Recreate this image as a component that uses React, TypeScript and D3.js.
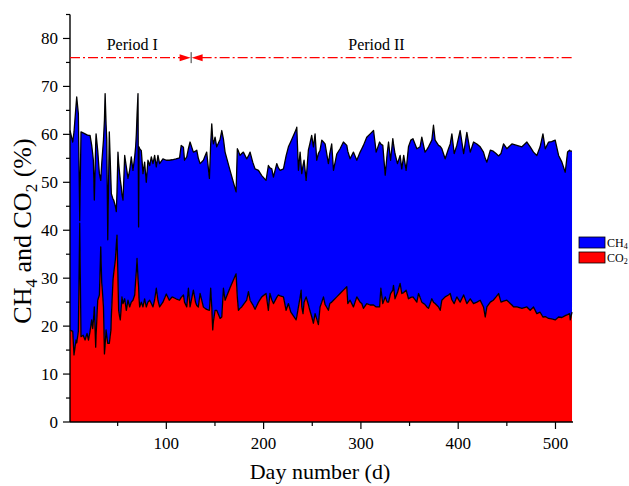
import React from 'react';
import * as d3 from 'd3';

// Day number of each reading
const days = [1, 3.8, 5.1, 7.2, 7.9, 9.6, 11, 12.3, 14.5, 16.5, 18.5, 20, 21.6, 23.3, 24.3, 25, 26, 27.4, 27.8, 29.5, 31.2, 32.6, 33.6, 34, 35.4, 36.4, 37.1, 38.1, 38.8, 39.8, 41.4, 43.1, 43.5, 45.2, 45.9, 47.6, 48.6, 49.3, 50.3, 51, 52, 52.7, 53.7, 54.4, 55.5, 57.2, 58.9, 60.6, 62.3, 64, 65.7, 67.5, 68.5, 69.2, 69.9, 70.9, 71.5, 71.9, 72.6, 74.3, 76, 77.7, 79.4, 81.1, 82.9, 84.6, 86.3, 88, 89.7, 91.4, 93.1, 96.5, 100, 103, 106, 110, 113.6, 115.3, 117.6, 118.7, 121, 122.7, 124.4, 127.8, 130, 131.3, 132.9, 134.7, 138.1, 139.8, 141.5, 144.3, 145.6, 146.7, 147.7, 148.4, 150.1, 151.8, 155.3, 157, 158.7, 160.4, 165.5, 171.7, 173, 174.1, 175.8, 177.5, 179.2, 182.6, 184.4, 186.1, 188.8, 191.2, 194.7, 198.1, 202.5, 204.9, 206.5, 208.4, 210.1, 213.5, 215.2, 217, 220.4, 223.1, 225.5, 228, 233.4, 234.1, 235.8, 237.5, 238.6, 239.2, 240.5, 241.6, 243.7, 246, 247.5, 249.4, 251.2, 252.9, 254.6, 256.3, 258, 259.8, 261.5, 263.2, 266.6, 268, 270, 271.8, 275.2, 278.6, 282, 285.5, 286.5, 288.9, 292.3, 295.8, 299.2, 300.9, 302.6, 306, 309.5, 313, 315.7, 319.2, 320.5, 322.5, 325, 327, 328.4, 330.5, 332.8, 333.5, 335, 337.6, 340.3, 342, 344, 346.5, 348.9, 351.3, 353.5, 357.5, 359.2, 360.8, 362.6, 365.9, 367.8, 369.5, 372.9, 374.6, 376.3, 379.8, 381.5, 383.2, 386.6, 390, 391.8, 393.5, 395.9, 398.6, 402, 405.6, 408.9, 412.4, 415.8, 419.2, 422.6, 426, 427.8, 429.5, 433, 436, 438.9, 441.5, 444, 446.6, 450, 455.2, 456.9, 460.3, 465.5, 470.6, 474, 477.4, 480.8, 484.2, 487.1, 489.5, 492.9, 496, 499.7, 503.2, 506.6, 510, 512.4, 514.5, 515.2, 517];

// CO2 content (%)
const co2 = [19.2, 18.9, 14.0, 17.1, 16.5, 18.9, 41.5, 17.8, 18.1, 17.1, 18.5, 17.1, 18.9, 21.3, 19.5, 21.0, 24.0, 15.6, 18.0, 25.4, 26.5, 36.5, 29.0, 28.2, 24.0, 14.2, 16.0, 19.2, 18.0, 16.4, 16.4, 19.2, 22.0, 29.6, 31.0, 33.8, 37.0, 39.0, 30.0, 23.3, 22.0, 21.3, 24.0, 26.1, 24.7, 25.7, 23.3, 25.4, 24.0, 25.0, 25.4, 26.5, 29.6, 31.5, 34.1, 30.0, 28.2, 26.0, 24.0, 25.0, 24.0, 25.7, 24.0, 25.0, 25.4, 24.7, 24.0, 25.5, 27.9, 25.4, 24.0, 25.0, 26.7, 25.4, 26.1, 25.7, 25.4, 26.0, 26.5, 25.0, 24.0, 27.9, 24.0, 27.5, 25.0, 24.3, 24.0, 26.8, 24.0, 23.7, 23.5, 23.3, 27.9, 24.0, 19.2, 21.0, 23.3, 23.3, 21.6, 21.9, 27.9, 25.4, 28.0, 30.9, 26.0, 23.3, 23.7, 24.0, 24.5, 25.4, 27.2, 25.4, 24.5, 23.5, 25.0, 26.1, 26.8, 23.3, 26.8, 25.5, 24.7, 26.0, 26.5, 26.3, 26.1, 23.3, 24.7, 22.9, 21.3, 22.0, 24.0, 26.0, 27.5, 24.0, 22.6, 25.0, 26.1, 24.5, 23.3, 22.0, 20.6, 22.6, 21.5, 20.3, 24.0, 25.0, 26.1, 24.5, 23.3, 24.7, 25.0, 25.4, 26.1, 26.8, 27.5, 28.2, 24.7, 25.4, 24.0, 26.1, 25.0, 24.7, 23.7, 24.7, 24.4, 24.4, 24.0, 24.0, 27.9, 24.7, 26.1, 25.0, 25.0, 26.8, 27.5, 28.5, 25.7, 27.0, 28.9, 26.8, 27.0, 27.5, 25.7, 26.0, 26.1, 25.0, 26.8, 26.0, 25.0, 24.5, 24.0, 23.7, 25.7, 25.0, 24.7, 24.0, 23.3, 25.4, 26.1, 26.5, 26.8, 25.5, 24.7, 26.1, 25.0, 26.5, 24.7, 25.7, 24.7, 25.0, 25.4, 24.0, 21.9, 24.0, 25.0, 25.4, 26.1, 26.8, 25.0, 25.2, 25.4, 24.4, 24.0, 24.0, 23.7, 24.0, 23.3, 24.0, 22.6, 22.9, 21.9, 22.0, 21.6, 21.5, 21.3, 21.9, 21.8, 22.2, 22.4, 22.6, 21.3, 22.9];

// CH4 content (%)
const ch4 = [41.6, 39.5, 46.5, 48.9, 51.3, 45.4, 0.5, 42.7, 42.2, 43.0, 41.4, 42.7, 40.9, 36.4, 36.5, 33.6, 22.3, 42.4, 42.1, 31.2, 25.3, 13.9, 24.9, 26.8, 34.8, 48.8, 52.5, 42.8, 40.8, 21.6, 44.1, 30.8, 25.6, 16.9, 15.3, 11.2, 6.9, 9.0, 26.3, 30.7, 29.8, 29.2, 25.0, 21.4, 21.6, 29.9, 29.9, 25.4, 28.5, 30.3, 27.1, 28.8, 27.9, 28.6, 29.9, 38.5, 12.5, 31.4, 33.0, 31.6, 27.8, 28.5, 26.0, 29.6, 28.1, 30.6, 29.9, 30.1, 25.3, 30.2, 29.9, 29.9, 27.9, 29.2, 28.6, 29.2, 29.7, 31.7, 30.8, 29.6, 31.3, 29.1, 34.4, 28.8, 31.5, 32.4, 31.0, 27.1, 30.6, 31.8, 32.8, 27.5, 30.1, 38.2, 39.8, 37.0, 36.1, 34.1, 37.4, 38.9, 31.1, 30.9, 24.5, 17.1, 31.0, 33.2, 31.9, 32.0, 31.8, 29.5, 28.3, 30.9, 29.7, 29.3, 27.5, 25.3, 23.6, 30.2, 26.2, 27.3, 26.4, 27.9, 26.5, 26.2, 26.7, 32.2, 32.7, 35.6, 39.7, 39.5, 28.5, 30.3, 26.0, 27.8, 30.9, 29.6, 24.3, 32.2, 34.7, 37.8, 36.8, 37.5, 33.1, 35.7, 32.7, 33.8, 32.3, 33.5, 30.6, 31.3, 33.0, 27.1, 29.8, 30.2, 30.9, 29.5, 31.8, 29.5, 32.3, 28.5, 31.3, 32.3, 34.0, 34.7, 35.7, 36.4, 32.3, 34.4, 30.1, 33.0, 25.4, 31.0, 33.4, 27.8, 31.6, 29.5, 30.3, 26.9, 26.7, 26.0, 28.6, 25.0, 31.7, 32.8, 33.0, 32.0, 30.4, 31.4, 34.4, 31.8, 32.8, 33.7, 33.1, 36.9, 34.1, 33.7, 34.2, 31.6, 28.8, 30.5, 31.2, 34.6, 31.3, 31.6, 35.8, 29.5, 35.7, 30.6, 33.7, 33.0, 32.0, 32.3, 33.1, 30.2, 31.7, 31.1, 29.9, 28.7, 31.0, 32.8, 31.6, 33.6, 33.9, 33.7, 33.7, 34.4, 34.1, 32.3, 33.0, 34.5, 38.2, 35.0, 36.8, 37.0, 37.5, 33.7, 32.4, 29.9, 33.9, 34.1, 35.2, 33.6];

const seriesKeys = ['co2', 'ch4'];
const seriesColors = ['#ff0000', '#0000ff'];
const legendLabels = [['CH', '4'], ['CO', '2']];

const yMajor = [0, 10, 20, 30, 40, 50, 60, 70, 80];
const yMinor = [5, 15, 25, 35, 45, 55, 65, 75, 85];
const xMajor = [100, 200, 300, 400, 500];
const xMinor = [50, 150, 250, 350, 450];

const periodLevel = 76;
const periodSplitDay = 125;
const periodLabels = [{ text: 'Period I', day: 65 }, { text: 'Period II', day: 316 }];

const W = 629;
const H = 486;
const FONT = '"Liberation Serif", "Times New Roman", serif';

export default function App() {
  const x = d3.scaleLinear().domain([1, 518]).range([70, 573]);
  const y = d3.scaleLinear().domain([0, 85]).range([422, 14.5]);

  const table = days.map((d, i) => ({ day: d, co2: co2[i], ch4: ch4[i] }));
  const stacked = d3.stack<any>().keys(seriesKeys)(table);

  const area = d3
    .area<any>()
    .x((d) => x(d.data.day))
    .y0((d) => y(d[0]))
    .y1((d) => y(d[1]));
  const line = d3
    .line<any>()
    .x((d) => x(d.data.day))
    .y((d) => y(d[1]));

  const py = y(periodLevel);
  const px = x(periodSplitDay);

  return (
    <svg
      width={W}
      height={H}
      style={{ position: 'absolute', left: 0, top: 0, background: '#fff' }}
      fontFamily={FONT}
    >
      <rect width={W} height={H} fill="#fff" />
      {/* areas */}
      {stacked
        .slice()
        .reverse()
        .map((s) => (
          <path key={s.key} d={area(s) || ''} fill={seriesColors[seriesKeys.indexOf(s.key)]} />
        ))}
      {stacked.map((s) => (
        <path key={'l' + s.key} d={line(s) || ''} fill="none" stroke="#000" strokeWidth={1.3} strokeLinejoin="round" />
      ))}

      {/* axes */}
      <line x1={70} x2={70} y1={y(85)} y2={422} stroke="#000" strokeWidth={1.4} />
      <line x1={70} x2={573} y1={422} y2={422} stroke="#000" strokeWidth={1.4} />
      {yMajor.map((v) => (
        <g key={'ym' + v}>
          <line x1={63} x2={70} y1={y(v)} y2={y(v)} stroke="#000" strokeWidth={1.2} />
          <text x={58} y={y(v)} dy="0.35em" textAnchor="end" fontSize={17}>
            {v}
          </text>
        </g>
      ))}
      {yMinor.map((v) => (
        <line key={'yn' + v} x1={66} x2={70} y1={y(v)} y2={y(v)} stroke="#000" strokeWidth={1.2} />
      ))}
      {xMajor.map((v) => (
        <g key={'xm' + v}>
          <line x1={x(v)} x2={x(v)} y1={422} y2={429} stroke="#000" strokeWidth={1.2} />
          <text x={x(v)} y={449} textAnchor="middle" fontSize={17}>
            {v}
          </text>
        </g>
      ))}
      {xMinor.map((v) => (
        <line key={'xn' + v} x1={x(v)} x2={x(v)} y1={422} y2={426} stroke="#000" strokeWidth={1.2} />
      ))}

      {/* axis titles */}
      <text x={320} y={479} textAnchor="middle" fontSize={22}>
        Day number (d)
      </text>
      <text transform={`translate(31,231) rotate(-90)`} textAnchor="middle" fontSize={26}>
        CH<tspan fontSize={17} dy={6}>4</tspan>
        <tspan dy={-6}> and CO</tspan>
        <tspan fontSize={17} dy={6}>2</tspan>
        <tspan dy={-6}> (%)</tspan>
      </text>

      {/* period annotation */}
      <line x1={70} x2={px - 10} y1={py} y2={py} stroke="#ff0000" strokeWidth={1.3} strokeDasharray="10,3,2,3" />
      <line x1={px + 11} x2={572} y1={py} y2={py} stroke="#ff0000" strokeWidth={1.3} strokeDasharray="10,3,2,3" />
      <polygon points={`${px - 11},${py - 3.5} ${px},${py} ${px - 11},${py + 3.5}`} fill="#ff0000" />
      <polygon points={`${px + 12},${py - 3.5} ${px + 1},${py} ${px + 12},${py + 3.5}`} fill="#ff0000" />
      <line x1={px + 0.5} x2={px + 0.5} y1={py - 5.5} y2={py + 5.5} stroke="#000" strokeWidth={0.8} />
      {periodLabels.map((p) => (
        <text key={p.text} x={x(p.day)} y={50} textAnchor="middle" fontSize={16}>
          {p.text}
        </text>
      ))}

      {/* legend */}
      {legendLabels.map((lab, i) => (
        <g key={lab[0]}>
          <rect
            x={579}
            y={237 + i * 15}
            width={26}
            height={11}
            fill={i === 0 ? seriesColors[1] : seriesColors[0]}
            stroke="#000"
            strokeWidth={0.8}
          />
          <text x={607} y={246.5 + i * 15} fontSize={12}>
            {lab[0]}
            <tspan fontSize={8} dy={2}>
              {lab[1]}
            </tspan>
          </text>
        </g>
      ))}
    </svg>
  );
}
